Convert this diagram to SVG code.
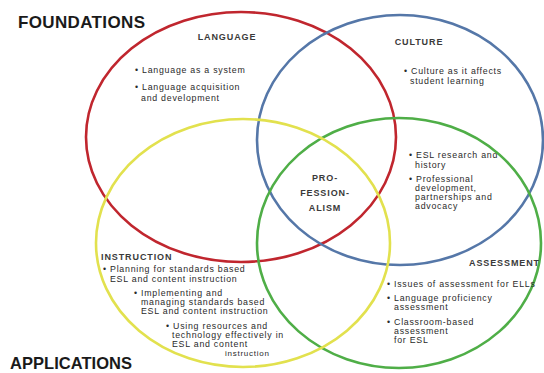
<svg xmlns="http://www.w3.org/2000/svg" width="544" height="373" viewBox="0 0 544 373">
<style>
.c{fill:none;stroke-width:2.6}
.t{font-family:"Liberation Sans",Arial,sans-serif;font-size:8.8px;letter-spacing:0.75px;fill:#2a2a2a}
.h{font-family:"Liberation Sans",Arial,sans-serif;font-size:9px;font-weight:bold;letter-spacing:0.9px;fill:#3a3a3a}
.big{font-family:"Liberation Sans",Arial,sans-serif;font-size:17px;font-weight:bold;fill:#1a1a1a}
</style>
<rect width="544" height="373" fill="#fff"/>
<g id="connectors"/>
<g id="language">
<ellipse class="c" cx="241" cy="137" rx="155" ry="125" stroke="#c0262e"/>
<text class="h" x="227" y="40" text-anchor="middle">LANGUAGE</text>
<text class="t" x="135" y="73">• Language as a system</text>
<text class="t" x="135" y="90">• Language acquisition</text>
<text class="t" x="141" y="101">and development</text>
</g>
<g id="culture">
<ellipse class="c" cx="400" cy="140" rx="143" ry="125" stroke="#5577a8"/>
<text class="h" x="419" y="45" text-anchor="middle">CULTURE</text>
<text class="t" x="404" y="74">• Culture as it affects</text>
<text class="t" x="410" y="84">student learning</text>
<text class="t" x="409" y="158">• ESL research and</text>
<text class="t" x="415" y="168">history</text>
<text class="t" x="409" y="182">• Professional</text>
<text class="t" x="415" y="191">development,</text>
<text class="t" x="415" y="200">partnerships and</text>
<text class="t" x="415" y="209">advocacy</text>
</g>
<g id="assessment">
<ellipse class="c" cx="399" cy="243" rx="142" ry="125" stroke="#4fae47"/>
<text class="h" x="540" y="266" text-anchor="end">ASSESSMENT</text>
<text class="t" x="387" y="287">• Issues of assessment for ELLs</text>
<text class="t" x="387" y="301">• Language proficiency</text>
<text class="t" x="394" y="310">assessment</text>
<text class="t" x="387" y="325">• Classroom-based</text>
<text class="t" x="394" y="334">assessment</text>
<text class="t" x="394" y="343">for ESL</text>
</g>
<g id="instruction">
<ellipse class="c" cx="243" cy="243" rx="147" ry="124" stroke="#e2e14e"/>
<text class="h" x="101" y="260">INSTRUCTION</text>
<text class="t" x="103" y="272">• Planning for standards based</text>
<text class="t" x="110" y="282">ESL and content instruction</text>
<text class="t" x="134" y="296">• Implementing and</text>
<text class="t" x="141" y="305">managing standards based</text>
<text class="t" x="141" y="314">ESL and content instruction</text>
<text class="t" x="166" y="329">• Using resources and</text>
<text class="t" x="172" y="338">technology effectively in</text>
<text class="t" x="172" y="347">ESL and content</text>
<text class="t" x="225" y="356" style="font-size:8px">instruction</text>
</g>
<g id="professionalism">
<text class="h" x="325" y="181" text-anchor="middle">PRO-</text>
<text class="h" x="325" y="196" text-anchor="middle">FESSION-</text>
<text class="h" x="325" y="211" text-anchor="middle">ALISM</text>
</g>
<g id="foundations"><text class="big" x="18" y="28" textLength="127">FOUNDATIONS</text></g>
<g id="applications"><text class="big" x="10" y="369" textLength="122" style="font-size:16.5px">APPLICATIONS</text></g>
</svg>
